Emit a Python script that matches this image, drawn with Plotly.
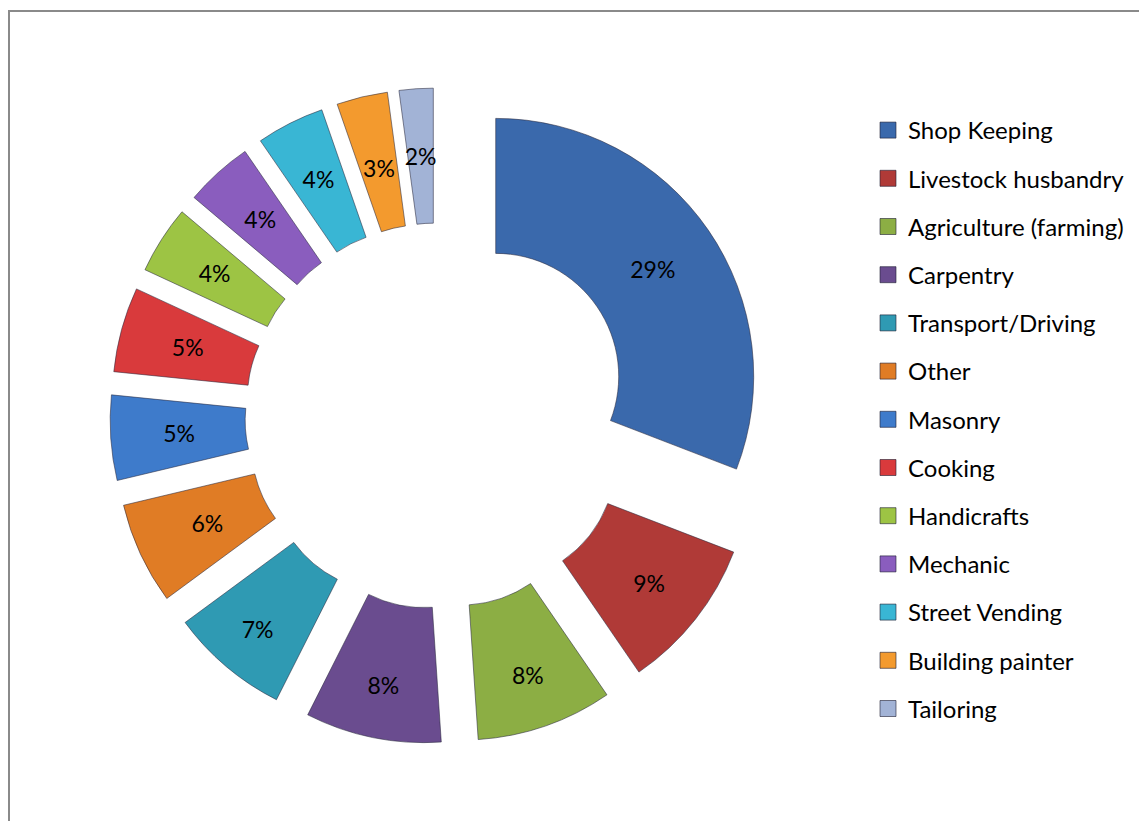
import plotly.graph_objects as go

categories = ["Shop Keeping", "Livestock husbandry", "Agriculture (farming)", "Carpentry",
              "Transport/Driving", "Other", "Masonry", "Cooking", "Handicrafts", "Mechanic",
              "Street Vending", "Building painter", "Tailoring"]
values = [29, 9, 8, 8, 7, 6, 5, 5, 4, 4, 4, 3, 2]
colors = ["#3A69AC", "#B03A37", "#8CAE44", "#6A4C8F", "#2F9AB3", "#E07C25",
          "#3E7BCB", "#D93A3C", "#9DC444", "#8A5DBE", "#39B6D4", "#F39A2E", "#A2B3D6"]

W, H = 1147, 821
OFF = 8                    # page body margin offset
cx, cy = 438 - OFF, 416 - OFF   # pixel centre of donut (figure coords)
R, RH, PULLPX = 258, 123, 70    # outer radius, hole radius, pull distance (px)


def dom(ext):
    return dict(x=[(cx - ext) / W, (cx + ext) / W],
                y=[(H - cy - ext) / H, (H - cy + ext) / H])


fig = go.Figure()
# visible donut
fig.add_trace(go.Pie(
    labels=categories, values=values, sort=False, direction="clockwise", rotation=0,
    hole=RH / R, pull=[PULLPX / R] * len(values),
    marker=dict(colors=colors, line=dict(color="rgba(40,40,60,0.55)", width=1)),
    textinfo="none", showlegend=False, hoverinfo="label+value",
    domain=dom(R + PULLPX),
))

# transparent rings carrying the percentage labels so they sit mid-ring
label_rings = [(258, lambda v: v >= 7), (221, lambda v: 4 <= v <= 6), (203, lambda v: v <= 3)]
for rr, sel in label_rings:
    fig.add_trace(go.Pie(
        labels=categories, values=values, sort=False, direction="clockwise", rotation=0,
        hole=RH / rr, pull=[PULLPX / rr] * len(values),
        marker=dict(colors=["rgba(0,0,0,0)"] * len(values), line=dict(width=0)),
        texttemplate=["%{value}%" if sel(v) else "" for v in values],
        textposition="inside", insidetextorientation="horizontal",
        textfont=dict(family="Lato", size=23, color="black"),
        showlegend=False, hoverinfo="skip",
        domain=dom(rr + PULLPX),
    ))

for name, col in zip(categories, colors):
    fig.add_trace(go.Scatter(
        x=[None], y=[None], mode="markers", name=name, legendgroup=name,
        marker=dict(symbol="square", size=16, color=col,
                    line=dict(color="rgba(30,30,50,0.6)", width=1)),
    ))

fig.update_layout(
    width=W, height=H,
    margin=dict(l=0, r=0, t=0, b=0),
    paper_bgcolor="white", plot_bgcolor="white",
    xaxis=dict(visible=False), yaxis=dict(visible=False),
    uniformtext=dict(minsize=23, mode="show"),
    legend=dict(x=860 / W, xanchor="left", y=1 - 100 / H, yanchor="top",
                traceorder="grouped", tracegroupgap=14, itemwidth=30,
                font=dict(family="Lato", size=24, color="black"),
                bgcolor="rgba(0,0,0,0)"),
    shapes=[dict(type="rect", xref="paper", yref="paper",
                 x0=1 / W, x1=1.05, y0=-0.05, y1=1 - 3 / H,
                 line=dict(color="#8a8a8a", width=2), fillcolor="rgba(0,0,0,0)")],
)

fig.write_html("out.html")
